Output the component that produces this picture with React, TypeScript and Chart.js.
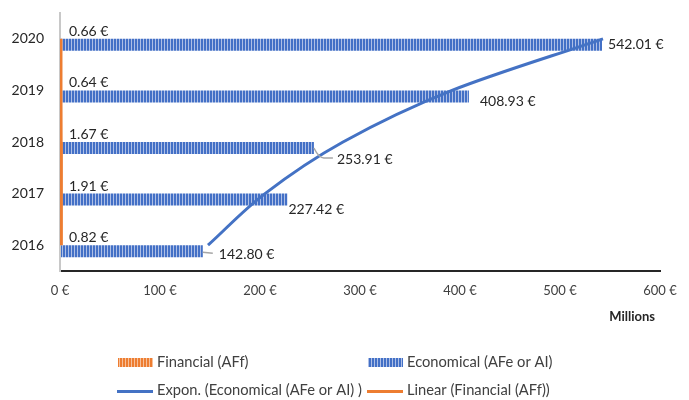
import React, { useEffect, useRef } from "react";
import { Chart, registerables } from "chart.js";

Chart.register(...registerables);

const years = ["2020", "2019", "2018", "2017", "2016"];
const financial = [0.66, 0.64, 1.67, 1.91, 0.82];
const economical = [542.01, 408.93, 253.91, 227.42, 142.8];
const economicalTrend = [543, 392, 283, 205, 148];
const financialTrend = [0.82, 0.98, 1.14, 1.3, 1.46];
const xMin = 0;
const xMax = 600;
const xStep = 100;
const legendLabels = [
  "Financial (AFf)",
  "Economical (AFe or AI)",
  "Expon. (Economical (AFe or AI) )",
  "Linear (Financial (AFf))",
];
const axisUnit = "Millions";

const BLUE = "#4472C4";
const ORANGE = "#ED7D31";
const FONT = "Lato, 'Open Sans', sans-serif";

// label placement styles (offsets from bar end, px)
const finLabelStyle = { dx: 9, dy: -1.5 };
const econLabelStyle = [
  { dx: 6, dy: 0, leader: 0 },
  { dx: 11, dy: 5, leader: 0 },
  { dx: 23, dy: 11, leader: 1 },
  { dx: 1, dy: 10, leader: 0 },
  { dx: 16, dy: 3, leader: 2 },
];

function makePattern(dark: string, light: string) {
  const c = document.createElement("canvas");
  c.width = 3;
  c.height = 4;
  const g = c.getContext("2d")!;
  g.fillStyle = dark;
  g.fillRect(0, 0, 3, 4);
  g.fillStyle = light;
  g.fillRect(2, 0, 1, 4);
  return g.createPattern(c, "repeat")!;
}

const fmt = (v: number) => v.toFixed(2) + " €";

export default function App() {
  const ref = useRef<HTMLCanvasElement | null>(null);

  useEffect(() => {
    if (!ref.current) return;
    const ctx = ref.current.getContext("2d")!;
    const bluePat = makePattern("#4370c6", "#aebfe6");
    const orangePat = makePattern("#ED7D31", "#f7c09a");

    const axisRedraw = {
      id: "axisRedraw",
      beforeDatasetDraw(chart: any, args: any) {
        if (args.index !== 1) return;
        const { top, bottom, left } = chart.chartArea;
        const c = chart.ctx;
        c.save();
        c.strokeStyle = "#c8c8c8";
        c.lineWidth = 2;
        c.beginPath();
        c.moveTo(left, top);
        c.lineTo(left, bottom);
        c.stroke();
        c.restore();
      },
    };

    const labelPlugin = {
      id: "valueLabels",
      afterDatasetsDraw(chart: any) {
        const c = chart.ctx;
        c.save();
        c.font = `14px ${FONT}`;
        c.fillStyle = "#262626";
        c.textAlign = "left";
        c.textBaseline = "middle";
        const finMeta = chart.getDatasetMeta(2);
        finMeta.data.forEach((el: any, i: number) => {
          c.fillText(fmt(financial[i]), el.base + finLabelStyle.dx, el.y + finLabelStyle.dy);
        });
        const ecoMeta = chart.getDatasetMeta(3);
        ecoMeta.data.forEach((el: any, i: number) => {
          const s = econLabelStyle[i];
          if (s.leader) {
            c.save();
            c.strokeStyle = "#a6a6a6";
            c.lineWidth = 1.5;
            c.beginPath();
            if (s.leader === 1) {
              c.moveTo(el.x, el.y);
              c.quadraticCurveTo(el.x + 5, el.y + 10, el.x + 10, el.y + 10);
              c.lineTo(el.x + 19, el.y + 10);
            } else {
              c.moveTo(el.x, el.y + 1);
              c.lineTo(el.x + 10, el.y + 2);
            }
            c.stroke();
            c.restore();
          }
          c.fillText(fmt(economical[i]), el.x + s.dx, el.y + s.dy);
        });
        c.restore();
      },
    };

    const legendPlugin = {
      id: "customLegend",
      afterDraw(chart: any) {
        const c = chart.ctx;
        c.save();
        c.textAlign = "left";
        c.textBaseline = "middle";
        // axis unit
        c.save();
        c.font = `bold 13px ${FONT}`;
        c.fillStyle = "#262626";
        c.textAlign = "right";
        c.fillText(axisUnit, 655, 317);
        c.restore();
        const cols = [118, 368];
        const rows = [362.5, 391.5];
        const boxW = 35;
        // row 1: bars
        c.fillStyle = orangePat;
        c.fillRect(cols[0], rows[0] - 4.5, boxW, 9);
        c.fillStyle = bluePat;
        c.fillRect(cols[1], rows[0] - 4.5, boxW, 9);
        // row 2: lines
        c.lineWidth = 3;
        c.strokeStyle = BLUE;
        c.beginPath();
        c.moveTo(cols[0] - 1, rows[1]);
        c.lineTo(cols[0] + boxW, rows[1]);
        c.stroke();
        c.strokeStyle = ORANGE;
        c.beginPath();
        c.moveTo(cols[1] - 1, rows[1]);
        c.lineTo(cols[1] + boxW, rows[1]);
        c.stroke();
        c.font = `14.7px ${FONT}`;
        c.fillStyle = "#404040";
        c.fillText(legendLabels[0], cols[0] + 39, rows[0]);
        c.fillText(legendLabels[1], cols[1] + 39, rows[0]);
        c.fillText(legendLabels[2], cols[0] + 39, rows[1] - 1);
        c.fillText(legendLabels[3], cols[1] + 39, rows[1] - 1);
        c.restore();
      },
    };

    const chart = new Chart(ctx, {
      type: "bar",
      data: {
        labels: years,
        datasets: [
          {
            type: "line",
            label: legendLabels[2],
            data: economicalTrend,
            indexAxis: "y",
            borderColor: BLUE,
            borderWidth: 3,
            pointRadius: 0,
            cubicInterpolationMode: "monotone",
            fill: false,
            order: 1,
          } as any,
          {
            type: "line",
            label: legendLabels[3],
            data: financialTrend,
            indexAxis: "y",
            borderColor: ORANGE,
            borderWidth: 3,
            pointRadius: 0,
            fill: false,
            order: 1,
          } as any,
          {
            type: "bar",
            label: legendLabels[0],
            data: financial,
            backgroundColor: orangePat,
            barPercentage: 1,
            categoryPercentage: 0.465,
            order: 2,
          } as any,
          {
            type: "bar",
            label: legendLabels[1],
            data: economical,
            backgroundColor: bluePat,
            barPercentage: 1,
            categoryPercentage: 0.465,
            order: 2,
          } as any,
        ],
      },
      options: {
        indexAxis: "y",
        animation: false,
        responsive: false,
        devicePixelRatio: 1,
        layout: { padding: { top: 13, right: 29, bottom: 71, left: 0 } },
        plugins: {
          legend: { display: false },
          tooltip: { enabled: false },
        },
        scales: {
          x: {
            type: "linear",
            min: xMin,
            max: xMax,
            ticks: {
              stepSize: xStep,
              padding: 12,
              font: { family: FONT, size: 13 },
              color: "#404040",
              callback: (v: any) => v + " €",
            },
            grid: { display: false, drawTicks: false },
            border: { display: true, color: "#262626", width: 2 },
            afterFit: (s: any) => {
              s.height = 58;
              s.paddingLeft = 0;
              s.paddingRight = 0;
            },
          },
          y: {
            type: "category",
            ticks: {
              padding: 16,
              font: { family: FONT, size: 14 },
              color: "#262626",
            },
            grid: { display: false, drawTicks: false },
            border: { display: true, color: "#c8c8c8", width: 2 },
            afterFit: (s: any) => {
              s.width = 60;
              s.paddingTop = 0;
              s.paddingBottom = 0;
            },
          },
        },
      } as any,
      plugins: [axisRedraw, labelPlugin, legendPlugin],
    });
    return () => chart.destroy();
  }, []);

  return (
    <div style={{ position: "fixed", left: 0, top: 0, width: 689, height: 400, background: "#fff" }}>
      <canvas ref={ref} width={689} height={400} style={{ display: "block" }} />
    </div>
  );
}
